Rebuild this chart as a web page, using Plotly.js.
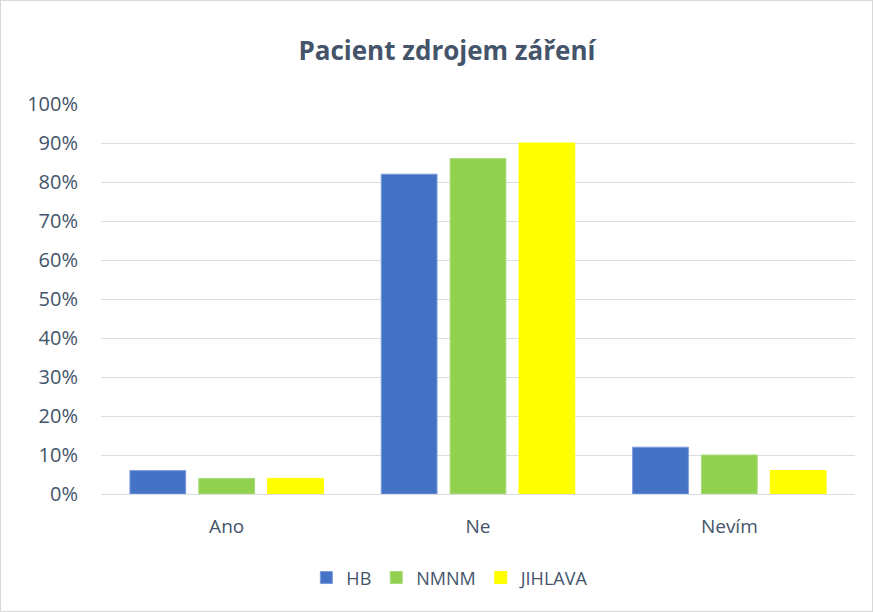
<!DOCTYPE html>
<html><head><meta charset="utf-8">
<script src="https://cdn.plot.ly/plotly-3.0.1.min.js"></script>
<style>
html,body{margin:0;padding:0;background:#fff;}
#chart{width:871px;height:610px;border:1px solid #d9d9d9;}
</style></head>
<body><div id="chart"></div>
<script>
const categories = ["Ano", "Ne", "Nevím"];
const seriesNames = ["HB", "NMNM", "JIHLAVA"];
const hbValues = [0.06, 0.82, 0.12];
const nmnmValues = [0.04, 0.86, 0.10];
const jihlavaValues = [0.04, 0.90, 0.06];
const colors = ["#4472C4", "#92D050", "#FFFF00"];
const lineColors = ["#7b9be0", "#a8db7a", "#FFFF00"];

const allValues = [hbValues, nmnmValues, jihlavaValues];
const traces = allValues.map((vals, i) => ({
  type: "bar",
  name: seriesNames[i],
  x: categories,
  y: vals,
  marker: {color: colors[i], line: {color: lineColors[i], width: 1}},
  hoverinfo: "none"
}));

const font = "'Open Sans', 'Noto Sans', sans-serif";
const txt = "#44546A";
Plotly.newPlot("chart", traces, {
  width: 871, height: 610,
  margin: {l: 100, r: 17, t: 103, b: 117},
  paper_bgcolor: "#fff", plot_bgcolor: "#fff",
  title: {text: "<b>Pacient zdrojem záření</b>", font: {family: font, size: 26, color: txt}, x: 0.512, xanchor: "center", y: 0.918, yanchor: "middle"},
  barmode: "group", bargap: 0.178, bargroupgap: 0.19,
  xaxis: {tickfont: {family: font, size: 19, color: txt}, showline: true, linecolor: "#d9dde4", linewidth: 1, ticks: "", ticklen: 0, showgrid: false, ticklabelstandoff: 15},
  yaxis: {range: [0, 1], dtick: 0.1, tickformat: ".0%", tickfont: {family: font, size: 20, color: txt}, gridcolor: "#d9dde4", gridwidth: 1, zeroline: false, ticks: "", ticklabelstandoff: 22, showline: false},
  legend: {orientation: "h", x: 0.464, xanchor: "center", y: -0.215, yanchor: "middle", font: {family: font, size: 18, color: txt}, itemwidth: 30, tracegroupgap: 0},
  showlegend: true
}, {displayModeBar: false, staticPlot: true});
</script></body></html>
